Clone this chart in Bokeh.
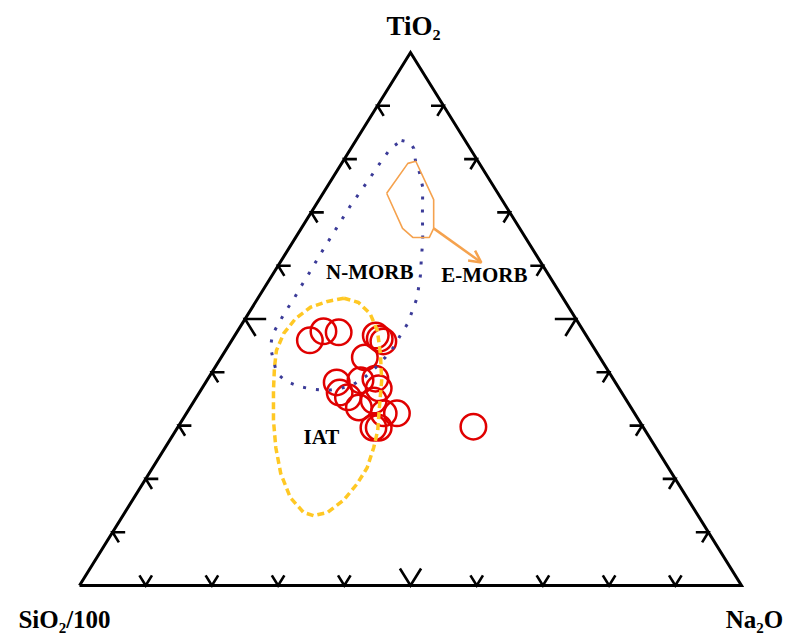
import numpy as np
from bokeh.plotting import figure
from bokeh.models import Range1d, Arrow, OpenHead
from bokeh.core.properties import value
from bokeh.embed import file_html
from bokeh.resources import INLINE

# ---------------- data (ternary fractions: TiO2, SiO2/100, Na2O) ----------------
apex_labels = ["TiO₂", "SiO₂/100", "Na₂O"]
tick_values = [0.1, 0.2, 0.3, 0.4, 0.5, 0.6, 0.7, 0.8, 0.9]

sample_tio2 = [0.460, 0.477, 0.475, 0.469, 0.463, 0.458, 0.428, 0.381, 0.362, 0.353,
               0.385, 0.388, 0.370, 0.334, 0.347, 0.323, 0.323, 0.296, 0.296, 0.298]
sample_na2o = [0.118, 0.130, 0.154, 0.213, 0.222, 0.230, 0.217, 0.198, 0.212, 0.229,
               0.232, 0.253, 0.267, 0.255, 0.271, 0.298, 0.318, 0.296, 0.304, 0.446]
sample_sio2 = [0.422, 0.393, 0.371, 0.318, 0.315, 0.312, 0.355, 0.421, 0.426, 0.418,
               0.383, 0.359, 0.363, 0.411, 0.382, 0.379, 0.359, 0.408, 0.400, 0.256]

nmorb_tio2 = [0.835, 0.831, 0.820, 0.797, 0.775, 0.747, 0.698, 0.647, 0.615, 0.582,
              0.540, 0.516, 0.492, 0.469, 0.447, 0.428, 0.409, 0.392, 0.377, 0.370,
              0.366, 0.368, 0.373, 0.383, 0.398, 0.422, 0.447, 0.471, 0.492, 0.514,
              0.537, 0.559, 0.582, 0.625, 0.670, 0.713, 0.756, 0.799, 0.820]
nmorb_na2o = [0.069, 0.084, 0.095, 0.109, 0.126, 0.145, 0.169, 0.195, 0.209, 0.224,
              0.240, 0.245, 0.250, 0.250, 0.251, 0.248, 0.243, 0.236, 0.225, 0.210,
              0.192, 0.170, 0.146, 0.121, 0.099, 0.082, 0.065, 0.056, 0.055, 0.054,
              0.055, 0.054, 0.054, 0.053, 0.053, 0.053, 0.056, 0.058, 0.060]

emorb_tio2 = [0.736, 0.792, 0.796, 0.724, 0.670, 0.653, 0.653, 0.670]
emorb_na2o = [0.096, 0.100, 0.110, 0.173, 0.200, 0.202, 0.177, 0.153]
emorb_arrow_tio2 = [0.670, 0.606]
emorb_arrow_na2o = [0.200, 0.304]

iat_tio2 = [0.539, 0.533, 0.522, 0.501, 0.473, 0.441, 0.409, 0.366, 0.310, 0.259,
            0.210, 0.165, 0.137, 0.131, 0.137, 0.160, 0.191, 0.221, 0.259, 0.291,
            0.334, 0.385, 0.435, 0.478, 0.510, 0.531]
iat_na2o = [0.130, 0.108, 0.088, 0.076, 0.072, 0.077, 0.090, 0.110, 0.138, 0.167,
            0.199, 0.236, 0.270, 0.288, 0.306, 0.319, 0.324, 0.324, 0.315, 0.305,
            0.286, 0.264, 0.237, 0.211, 0.184, 0.156]

field_labels = ["N-MORB", "E-MORB", "IAT"]
field_label_tio2 = [0.573, 0.567, 0.263]
field_label_na2o = [0.152, 0.328, 0.234]


# ---------------- helpers ----------------
def tern(tio2, na2o, sio2=None):
    a = np.asarray(tio2, float)
    c = np.asarray(na2o, float)
    b = 1.0 - a - c if sio2 is None else np.asarray(sio2, float)
    s = a + b + c
    a, c = a / s, c / s
    return c + a / 2.0, a


def closed(v):
    v = list(v)
    return v + v[:1]


PXX, PXY = 662.0, 533.0  # pixels per unit in x / y
W, H = 789, 635

p = figure(width=W, height=H, output_backend="svg", toolbar_location=None,
           x_range=Range1d(-79 / PXX, 710 / PXX), y_range=Range1d(-50 / PXY, 585 / PXY),
           x_axis_location=None, y_axis_location=None, min_border=0)
p.grid.visible = False
p.outline_line_color = None
p.background_fill_color = "white"

# triangle
V = {"T": np.array([0.5, 1.0]), "L": np.array([0.0, 0.0]), "R": np.array([1.0, 0.0])}
p.line([V["L"][0], V["R"][0], V["T"][0], V["L"][0]],
       [V["L"][1], V["R"][1], V["T"][1], V["L"][1]],
       line_color="black", line_width=3, line_join="miter")

# ticks (chevrons pointing along the two grid directions)
xs, ys = [], []
edges = [("T", "L", "R"), ("R", "L", "T"), ("L", "R", "T")]  # opposite vertex, edge start, edge end
for opp, s0, s1 in edges:
    d1 = V[opp] - V[s0]
    d2 = V[opp] - V[s1]
    for t in tick_values:
        P = V[s0] + t * (V[s1] - V[s0])
        s = 0.032 if abs(t - 0.5) < 1e-9 else 0.019
        a1 = P + s * d1
        a2 = P + s * d2
        xs.append([a1[0], P[0], a2[0]])
        ys.append([a1[1], P[1], a2[1]])
p.multi_line(xs, ys, line_color="black", line_width=2.6, line_join="miter")

# samples
sx, sy = tern(sample_tio2, sample_na2o, sample_sio2)
p.scatter(sx, sy, marker="circle", size=25.5, fill_color=None,
          line_color="#e00000", line_width=2.5)

# IAT field
ix, iy = tern(iat_tio2, iat_na2o)
p.line(closed(ix), closed(iy), line_color="#ffc824", line_width=3.5, line_dash="7 4")

# N-MORB field
nx, ny = tern(nmorb_tio2, nmorb_na2o)
p.line(closed(nx), closed(ny), line_color="#3b3b98", line_width=3, line_dash="3 10")

# E-MORB field and arrow
ex, ey = tern(emorb_tio2, emorb_na2o)
p.line(closed(ex), closed(ey), line_color="#f5a24e", line_width=1.6)
axs, ays = tern(emorb_arrow_tio2, emorb_arrow_na2o)
p.add_layout(Arrow(x_start=axs[0], y_start=ays[0], x_end=axs[1], y_end=ays[1],
                   line_color="#f5a24e", line_width=2.5,
                   end=OpenHead(size=12, line_color="#f5a24e", line_width=2.5)))

# field labels (raised a few pixels to compensate baseline placement)
fx, fy = tern(field_label_tio2, field_label_na2o)
p.text(fx, np.asarray(fy) + 8.5 / PXY, text=field_labels, text_font=value("Liberation Serif"),
       text_font_style="bold", text_font_size="21px", text_align="center",
       text_baseline="alphabetic", text_color="black")

# apex labels (offset in pixels from the vertices)
offsets = {"T": (3, -27), "L": (-15, 34), "R": (13, 34)}
sizes = {"T": "27px", "L": "25px", "R": "25px"}
for lab, key in zip(apex_labels, ["T", "L", "R"]):
    dx, dy = offsets[key]
    p.text([V[key][0] + dx / PXX], [V[key][1] - dy / PXY], text=[lab],
           text_font=value("Liberation Serif"), text_font_style="bold",
           text_font_size=sizes[key], text_align="center",
           text_baseline="alphabetic", text_color="black")

open("out.html", "w").write(file_html(p, INLINE))
